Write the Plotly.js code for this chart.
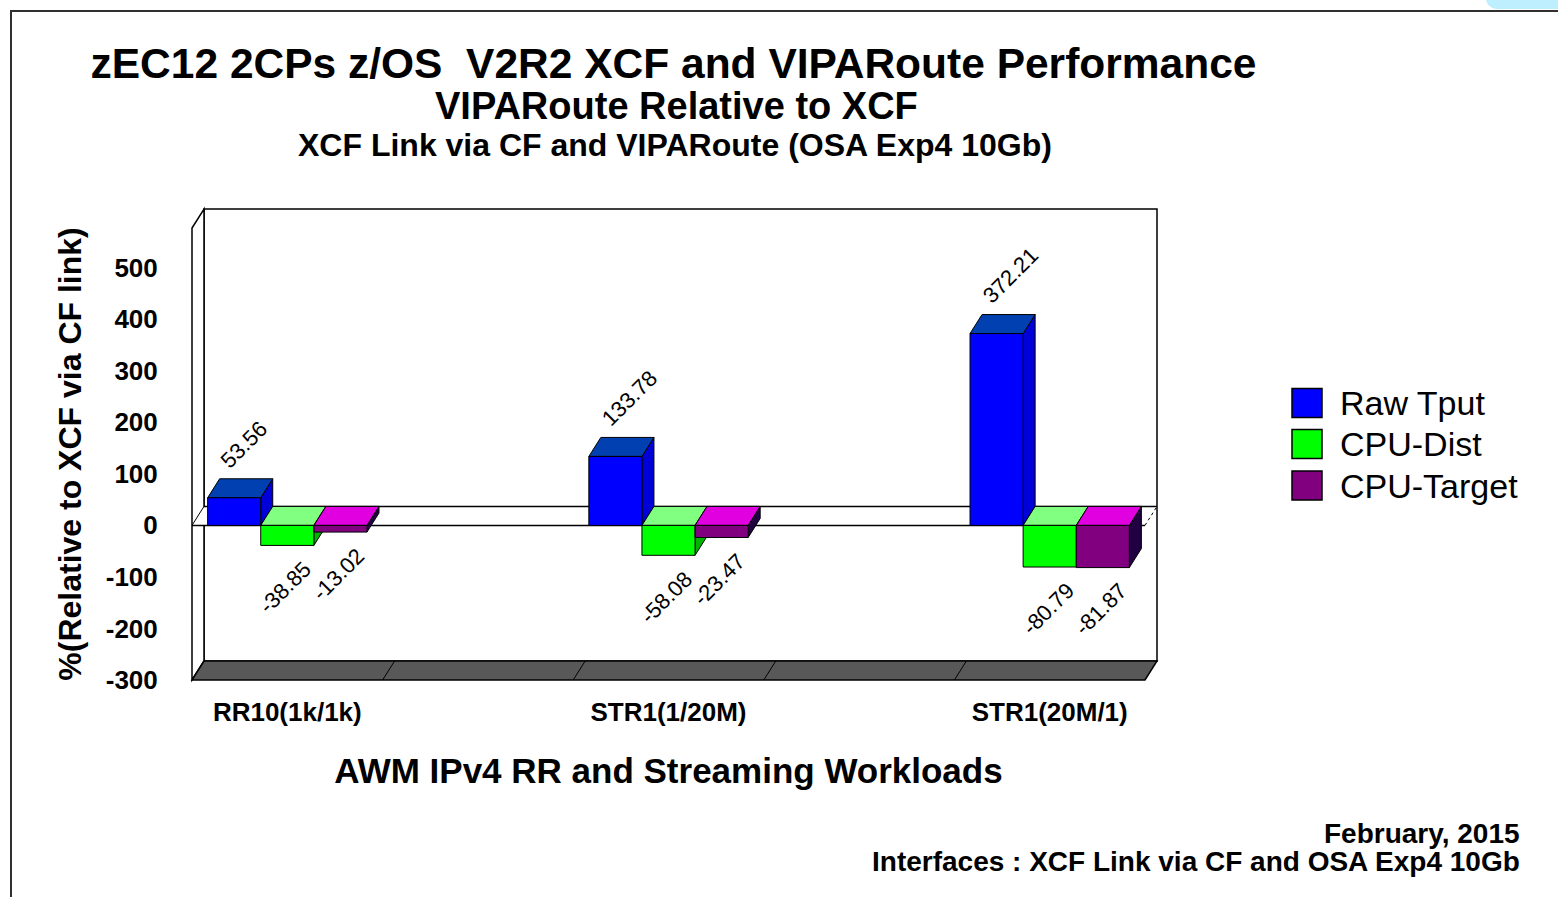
<!DOCTYPE html>
<html>
<head>
<meta charset="utf-8">
<script src="https://cdn.plot.ly/plotly-3.0.1.min.js"></script>
<style>
html,body{margin:0;padding:0;background:#ffffff;}
#chart{width:1558px;height:897px;}
</style>
</head>
<body>
<div id="chart"></div>
<script>
// ---------------- data ----------------
const categories = ['RR10(1k/1k)', 'STR1(1/20M)', 'STR1(20M/1)'];
const seriesNames = ['Raw Tput', 'CPU-Dist', 'CPU-Target'];
const rawTput = [53.56, 133.78, 372.21];
const cpuDist = [-38.85, -58.08, -80.79];
const cpuTarget = [-13.02, -23.47, -81.87];
const yTickVals = [-300, -200, -100, 0, 100, 200, 300, 400, 500];
const yTickText = ['-300', '-200', '-100', '0', '100', '200', '300', '400', '500'];

const titleLine1 = 'zEC12 2CPs z/OS\u00A0\u00A0V2R2 XCF and VIPARoute Performance';
const titleLine2 = 'VIPARoute Relative to XCF';
const titleLine3 = 'XCF Link via CF and VIPARoute (OSA Exp4 10Gb)';
const yTitle = '%(Relative to XCF via CF link)';
const xTitle = 'AWM IPv4 RR and Streaming Workloads';
const footerLines = ['February, 2015', 'Interfaces : XCF Link via CF and OSA Exp4 10Gb'];

// ---------------- styles ----------------
const FONT = 'Liberation Sans, Arial, Helvetica, sans-serif';
const frontColors = ['#0000FF', '#00FF00', '#800080'];
const topColors = ['#0040B0', '#80FF80', '#E000E0'];
const sideColors = ['#0000D8', '#00B400', '#200040'];
const floorColor = '#585858';

const W = 1558, H = 897;
const M = {l: 192, r: 413, t: 228, b: 217};
const plotW = W - M.l - M.r;
const plotH = H - M.t - M.b;
const xRange = [-0.25, 2.25];
const yRange = [-300, 577];
const pxX = plotW / (xRange[1] - xRange[0]);
const pxY = plotH / (yRange[1] - yRange[0]);
const DX = 12, DY = 19;          // depth offset of the 3-D look (pixels)
const groupW = 0.418;
const barW = groupW / 3;

const series = [rawTput, cpuDist, cpuTarget];

// paper helpers (pixel -> paper fraction)
const toPX = px => (px - M.l) / plotW;
const toPY = py => (H - M.b - py) / plotH;

function polyPath(pts, close) {
  return 'M' + pts.map(p => p[0].toFixed(2) + ',' + p[1].toFixed(2)).join('L') + (close === false ? '' : 'Z');
}
function pxShape(xref, xanchor, yref, yanchor, pts, fill, line, close) {
  return {
    type: 'path', layer: 'below',
    xref: xref, yref: yref,
    xsizemode: 'pixel', ysizemode: 'pixel',
    xanchor: xanchor, yanchor: yanchor,
    path: polyPath(pts, close),
    fillcolor: fill || 'rgba(0,0,0,0)',
    line: line || {width: 0}
  };
}

// ---------------- traces (front faces of bars) ----------------
const traces = series.map((vals, i) => ({
  type: 'bar',
  name: seriesNames[i],
  x: categories.map((c, k) => k),
  y: vals,
  width: barW,
  offset: -groupW / 2 + i * barW,
  marker: {color: frontColors[i], line: {color: '#000000', width: 1}},
  showlegend: false,
  hovertemplate: '%{y:.2f}<extra>' + seriesNames[i] + '</extra>'
}));

// ---------------- shapes (3-D box, floor, zero plane, bar tops/sides) ----------------
const shapes = [];
const edge = {color: '#000000', width: 1.5};

// back wall
shapes.push(pxShape('paper', 0, 'paper', 0,
  [[DX, DY], [plotW + DX, DY], [plotW + DX, plotH + DY], [DX, plotH + DY]], '#ffffff', edge));
// left wall
shapes.push(pxShape('paper', 0, 'paper', 0,
  [[0, 0], [DX, DY], [DX, plotH + DY], [0, plotH]], '#ffffff', edge));
// floor
shapes.push(pxShape('paper', 0, 'paper', 0,
  [[0, 0], [plotW, 0], [plotW + DX, DY], [DX, DY]], floorColor, edge));
// floor dividers every half category
for (let xv = xRange[0] + 0.5; xv < xRange[1] - 0.01; xv += 0.5) {
  shapes.push(pxShape('x', xv, 'paper', 0, [[0, 0], [DX, DY]], null, {color: '#000000', width: 1}, false));
}
// zero plane
shapes.push(pxShape('paper', 0, 'y', 0,
  [[0, 0], [plotW, 0], [plotW + DX, DY], [DX, DY]], '#ffffff', {width: 0}));
shapes.push(pxShape('paper', 0, 'y', 0, [[0, 0], [plotW, 0]], null, edge, false));
shapes.push(pxShape('paper', 0, 'y', 0, [[DX, DY], [plotW + DX, DY]], null, edge, false));
shapes.push(pxShape('paper', 0, 'y', 0, [[0, 0], [DX, DY]], null, {color: '#000000', width: 1}, false));
shapes.push(pxShape('paper', 0, 'y', 0, [[plotW, 0], [plotW + DX, DY]], null, {color: '#000000', width: 1, dash: 'dot'}, false));

// bar tops and sides
const bwPx = barW * pxX;
categories.forEach((c, k) => {
  series.forEach((vals, i) => {
    const v = vals[k];
    const left = k - groupW / 2 + i * barW;
    const right = left + barW;
    const hv = v * pxY;
    shapes.push(pxShape('x', right, 'y', 0,
      [[0, 0], [0, hv], [DX, hv + DY], [DX, DY]], sideColors[i], {color: '#000000', width: 1}));
    shapes.push(pxShape('x', left, 'y', Math.max(v, 0),
      [[0, 0], [bwPx, 0], [bwPx + DX, DY], [DX, DY]], topColors[i], {color: '#000000', width: 1}));
  });
});

// page frame
shapes.push({type: 'line', layer: 'above', xref: 'paper', yref: 'paper',
  x0: toPX(10), x1: toPX(1558), y0: toPY(11), y1: toPY(11), line: {color: '#303030', width: 2}});
shapes.push({type: 'line', layer: 'above', xref: 'paper', yref: 'paper',
  x0: toPX(11), x1: toPX(11), y0: toPY(10), y1: toPY(897), line: {color: '#303030', width: 2}});
shapes.push({type: 'path', layer: 'above', xref: 'paper', yref: 'paper', xsizemode: 'pixel', ysizemode: 'pixel',
  xanchor: toPX(1558), yanchor: toPY(0),
  path: 'M-72,0L0,0L0,-9L-62,-9Q-70,-8 -72,0Z', fillcolor: '#BDEFFF', line: {width: 0}});

// legend squares
const legendY = [403, 444, 485.5];
seriesNames.forEach((n, i) => {
  shapes.push({type: 'rect', layer: 'above', xref: 'paper', yref: 'paper',
    x0: toPX(1292), x1: toPX(1322), y0: toPY(legendY[i] + 14.5), y1: toPY(legendY[i] - 14.5),
    fillcolor: frontColors[i], line: {color: '#000000', width: 1.5}});
});

// ---------------- annotations ----------------
const annotations = [];
// data labels
categories.forEach((c, k) => {
  series.forEach((vals, i) => {
    const v = vals[k];
    const cx = k - groupW / 2 + (i + 0.5) * barW;
    const pos = v >= 0;
    annotations.push({
      xref: 'x', yref: 'y', x: cx, y: v, text: v.toFixed(2), showarrow: false,
      textangle: -45, borderpad: 0,
      xanchor: pos ? 'left' : 'right', yanchor: pos ? 'bottom' : 'top',
      xshift: pos ? -20 : 30, yshift: pos ? 24 : -10,
      font: {family: FONT, size: 22, color: '#000000'}
    });
  });
});
// subtitle lines
annotations.push({xref: 'paper', yref: 'paper', x: toPX(676), y: toPY(106), text: titleLine2, showarrow: false,
  xanchor: 'center', yanchor: 'middle', font: {family: FONT, size: 38, weight: 'bold', color: '#000'}});
annotations.push({xref: 'paper', yref: 'paper', x: toPX(675), y: toPY(145), text: titleLine3, showarrow: false,
  xanchor: 'center', yanchor: 'middle', font: {family: FONT, size: 32, weight: 'bold', color: '#000'}});
// legend texts
seriesNames.forEach((n, i) => {
  annotations.push({xref: 'paper', yref: 'paper', x: toPX(1338), y: toPY(legendY[i]), text: n, showarrow: false,
    xanchor: 'left', yanchor: 'middle', font: {family: FONT, size: 34, color: '#000'}});
});
// footer
annotations.push({xref: 'paper', yref: 'paper', x: toPX(1522), y: toPY(833), text: footerLines[0], showarrow: false,
  xanchor: 'right', yanchor: 'middle', font: {family: FONT, size: 28, weight: 'bold', color: '#000'}});
annotations.push({xref: 'paper', yref: 'paper', x: toPX(1522), y: toPY(861), text: footerLines[1], showarrow: false,
  xanchor: 'right', yanchor: 'middle', font: {family: FONT, size: 28, weight: 'bold', color: '#000'}});

// ---------------- layout ----------------
const layout = {
  width: W, height: H,
  margin: M,
  paper_bgcolor: '#ffffff',
  plot_bgcolor: 'rgba(0,0,0,0)',
  barmode: 'overlay',
  showlegend: false,
  font: {family: FONT, color: '#000000'},
  title: {
    text: titleLine1,
    xref: 'paper', yref: 'container',
    x: toPX(673.5), y: 1 - 63 / H, xanchor: 'center', yanchor: 'middle',
    font: {family: FONT, size: 42.5, weight: 'bold', color: '#000'}
  },
  xaxis: {
    range: xRange, fixedrange: true,
    tickmode: 'array', tickvals: categories.map((c, k) => k), ticktext: categories,
    ticks: 'outside', ticklen: 9, tickcolor: 'rgba(0,0,0,0)',
    showgrid: false, zeroline: false, showline: false,
    tickfont: {family: FONT, size: 26, weight: 'bold', color: '#000'},
    title: {text: xTitle, standoff: 32, font: {family: FONT, size: 35, weight: 'bold', color: '#000'}}
  },
  yaxis: {
    range: yRange, fixedrange: true,
    tickmode: 'array', tickvals: yTickVals, ticktext: yTickText,
    ticks: 'outside', ticklen: 28, tickcolor: 'rgba(0,0,0,0)',
    showgrid: false, zeroline: false, showline: false,
    tickfont: {family: FONT, size: 26, weight: 'bold', color: '#000'},
    title: {text: yTitle, standoff: 14, font: {family: FONT, size: 32, weight: 'bold', color: '#000'}}
  },
  shapes: shapes,
  annotations: annotations
};

Plotly.newPlot('chart', traces, layout, {displayModeBar: false, staticPlot: true});
</script>
</body>
</html>
